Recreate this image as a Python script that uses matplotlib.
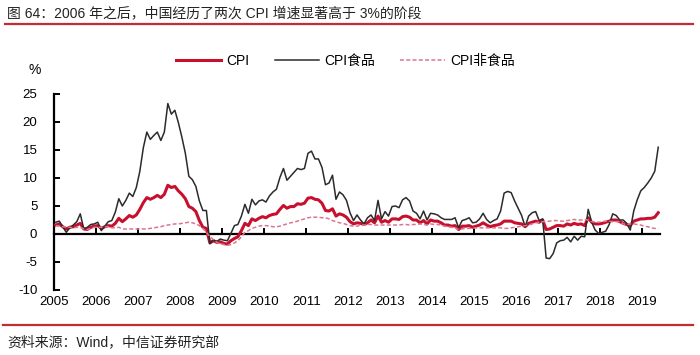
import matplotlib
matplotlib.use('Agg')
import matplotlib.pyplot as plt
from matplotlib.lines import Line2D
import numpy as np

plt.rcParams['font.family'] = ['Liberation Sans', 'Noto Sans CJK SC']
plt.rcParams['axes.unicode_minus'] = False

# monthly YoY %, Jun 2005 - Oct 2019
cpi = [1.6, 1.8, 1.3, 0.9, 1.2, 1.3, 1.6,
       1.9, 0.9, 0.8, 1.2, 1.4, 1.5, 1.0, 1.3, 1.5, 1.4, 1.9, 2.8,
       2.2, 2.7, 3.3, 3.0, 3.4, 4.4, 5.6, 6.5, 6.2, 6.5, 6.9, 6.5,
       7.1, 8.7, 8.3, 8.5, 7.7, 7.1, 6.3, 4.9, 4.6, 4.0, 2.4, 1.2,
       1.0, -1.6, -1.2, -1.5, -1.4, -1.7, -1.8, -1.2, -0.8, -0.5, 0.6, 1.9,
       1.5, 2.7, 2.4, 2.8, 3.1, 2.9, 3.3, 3.5, 3.6, 4.4, 5.1, 4.6,
       4.9, 4.9, 5.4, 5.3, 5.5, 6.4, 6.5, 6.2, 6.1, 5.5, 4.2, 4.1,
       4.5, 3.2, 3.6, 3.4, 3.0, 2.2, 1.8, 2.0, 1.9, 1.7, 2.0, 2.5,
       2.0, 3.2, 2.1, 2.4, 2.1, 2.7, 2.7, 2.6, 3.1, 3.2, 3.0, 2.5,
       2.5, 2.0, 2.4, 1.8, 2.5, 2.3, 2.3, 2.0, 1.6, 1.6, 1.4, 1.5,
       0.8, 1.4, 1.4, 1.5, 1.2, 1.4, 1.6, 2.0, 1.6, 1.3, 1.5, 1.6,
       1.8, 2.3, 2.3, 2.3, 2.0, 1.9, 1.8, 1.3, 1.9, 2.1, 2.3, 2.1,
       2.5, 0.8, 0.9, 1.2, 1.5, 1.5, 1.4, 1.8, 1.6, 1.9, 1.7, 1.8,
       1.5, 2.9, 2.1, 1.8, 1.8, 1.9, 2.1, 2.3, 2.5, 2.5, 2.2, 1.9,
       1.7, 1.5, 2.3, 2.5, 2.7, 2.7, 2.8, 2.8, 3.0, 3.8]

cpi_food = [2.1, 2.3, 1.3, 0.3, 1.1, 1.6, 2.2,
            3.6, 0.9, 1.2, 1.7, 1.8, 2.1, 0.6, 1.4, 2.2, 2.4, 3.9, 6.3,
            5.0, 6.0, 7.3, 6.7, 8.3, 11.2, 15.4, 18.2, 16.9, 17.6, 18.2, 16.7,
            18.2, 23.3, 21.4, 22.1, 19.9, 17.3, 14.4, 10.3, 9.7, 8.5, 5.9, 4.2,
            4.2, -1.7, -1.1, -1.3, -0.9, -1.1, -1.2, 0.1, 1.5, 1.7, 3.2, 5.3,
            3.7, 6.2, 5.2, 5.9, 6.1, 5.7, 6.8, 7.5, 8.0, 10.1, 11.7, 9.6,
            10.3, 11.0, 11.7, 11.5, 11.7, 14.4, 14.8, 13.4, 13.4, 11.9, 8.8, 9.1,
            10.5, 6.2, 7.5, 7.0, 6.0, 3.8, 2.4, 3.4, 2.5, 1.8, 2.9, 3.4,
            2.4, 6.0, 2.7, 4.0, 3.2, 4.9, 5.0, 4.7, 6.1, 6.5, 5.9, 4.1,
            3.7, 2.7, 4.1, 2.5, 3.7, 3.6, 3.4, 2.9, 2.6, 2.6, 2.6, 2.9,
            1.1, 2.4, 2.6, 2.9, 2.0, 2.1, 2.7, 3.7, 2.6, 2.0, 2.4, 2.7,
            4.1, 7.3, 7.6, 7.4, 5.9, 4.6, 3.3, 1.3, 3.2, 3.8, 4.0, 2.4,
            2.7, -4.3, -4.4, -3.5, -1.6, -1.2, -1.1, -0.6, -1.4, -0.4, -1.1, -0.4,
            -0.5, 4.4, 2.1, 0.7, 0.1, 0.3, 0.5, 1.7, 3.6, 3.3, 2.5, 2.5,
            1.9, 0.7, 4.1, 6.1, 7.7, 8.3, 9.1, 10.0, 11.2, 15.5]

cpi_nonfood = [1.5, 1.4, 1.3, 1.2, 1.2, 1.1, 1.2,
               1.2, 0.9, 0.8, 1.0, 1.2, 1.2, 1.2, 1.3, 1.3, 1.1, 1.1, 1.2,
               0.9, 0.9, 0.9, 0.9, 0.9, 0.9, 0.9, 0.9, 1.0, 1.1, 1.2, 1.3,
               1.5, 1.6, 1.7, 1.8, 1.8, 1.9, 2.0, 2.1, 2.0, 1.8, 1.5, 1.0,
               0.3, -0.5, -1.0, -1.5, -1.7, -1.9, -2.0, -1.9, -1.6, -1.2, -0.5, 0.3,
               0.6, 1.0, 1.2, 1.4, 1.5, 1.5, 1.4, 1.3, 1.3, 1.4, 1.6, 1.8,
               2.0, 2.1, 2.3, 2.5, 2.7, 2.9, 3.0, 3.0, 3.0, 2.9, 2.9, 2.7,
               2.4, 2.2, 2.0, 1.9, 1.7, 1.5, 1.4, 1.4, 1.6, 1.6, 1.7, 1.7,
               1.6, 1.6, 1.6, 1.6, 1.6, 1.6, 1.6, 1.6, 1.7, 1.7, 1.6, 1.7,
               1.7, 1.8, 1.7, 1.6, 1.8, 1.7, 1.7, 1.6, 1.4, 1.3, 1.2, 1.1,
               0.8, 0.9, 1.0, 1.0, 1.0, 1.1, 1.1, 1.1, 1.1, 1.1, 1.1, 1.1,
               1.1, 1.0, 1.0, 1.1, 1.2, 1.3, 1.4, 1.5, 1.6, 1.8, 2.0, 2.1,
               2.2, 2.2, 2.3, 2.4, 2.4, 2.3, 2.3, 2.4, 2.5, 2.6, 2.5, 2.5,
               2.6, 2.5, 2.2, 2.1, 2.1, 2.2, 2.3, 2.3, 2.2, 2.2, 2.2, 1.8,
               1.7, 1.8, 1.8, 1.7, 1.6, 1.4, 1.3, 1.1, 1.0, 0.9]

years = list(range(2005, 2020))

title = '图 64：2006 年之后，中国经历了两次 CPI 增速显著高于 3%的阶段'
source = '资料来源：Wind，中信证券研究部'

n = len(cpi)
x = np.arange(n) + 0.5
year_pos = np.arange(len(years)) * 12

fig = plt.figure(figsize=(7, 3.55), dpi=100)
ax = fig.add_axes([54 / 700, 65 / 355, 606 / 700, 196 / 355])

ax.plot(x, cpi, color='#C8102E', lw=2.2, label='CPI', zorder=3)
ax.plot(x, cpi_food, color='#2B2B2B', lw=1.1, label='CPI食品', zorder=4)
ax.plot(x, cpi_nonfood, color='#D9778F', lw=1.1, ls=(0, (2.6, 1.5)),
        label='CPI非食品', zorder=5)

ax.set_xlim(0, n)
ax.set_ylim(-10, 25)
ax.set_yticks(range(-10, 26, 5))
ax.set_xticks(year_pos)

for s in ['top', 'right']:
    ax.spines[s].set_visible(False)
ax.spines['bottom'].set_position(('data', 0))
ax.spines['left'].set_linewidth(1.6)
ax.spines['bottom'].set_linewidth(1.6)
ax.tick_params(axis='y', direction='in', length=4, width=1.4, pad=12,
               labelsize=9.5, colors='black')
ax.tick_params(axis='x', direction='in', length=4, width=1.4,
               labelbottom=False)

# year labels sit below the plot, not at the zero line
sec = ax.secondary_xaxis('bottom')
sec.set_xticks(year_pos, labels=[str(y) for y in years])
sec.tick_params(length=0, pad=4, labelsize=9.5)
sec.spines['bottom'].set_visible(False)

ax.legend(loc='center', bbox_to_anchor=(0.494, 0.828),
          bbox_transform=fig.transFigure, ncol=3, frameon=False,
          fontsize=10, handlelength=3.2, handletextpad=0.4,
          columnspacing=1.8)

fig.text(35 / 700, 1 - 70 / 355, '%', ha='center', va='center', fontsize=10)
fig.text(7 / 700, 1 - 13 / 355, title, ha='left', va='center',
         fontsize=10, color='#222222')
fig.text(7 / 700, 1 - 342 / 355, source, ha='left', va='center',
         fontsize=10, color='#222222')

fig.add_artist(Line2D([5 / 700, 693 / 700], [1 - 24 / 355] * 2,
                      color='#C62A32', lw=1.6))
fig.add_artist(Line2D([3 / 700, 693 / 700], [1 - 325 / 355] * 2,
                      color='#C62A32', lw=1.6))

fig.savefig('out.png', dpi=100)
